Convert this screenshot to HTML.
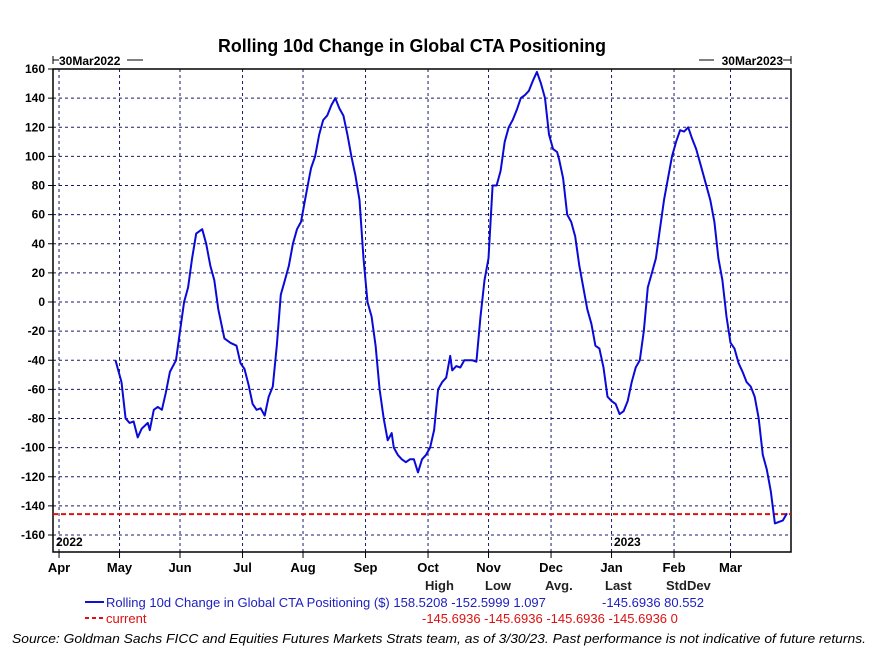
<!DOCTYPE html>
<html><head><meta charset="utf-8"><style>
body{margin:0;background:#fff}
svg{display:block;font-family:"Liberation Sans",Arial,sans-serif}
</style></head><body>
<svg id="chart" width="886" height="662" viewBox="0 0 886 662">
<text x="412" y="52" text-anchor="middle" font-size="18" font-weight="bold" textLength="388" lengthAdjust="spacingAndGlyphs">Rolling 10d Change in Global CTA Positioning</text>
<g id="grid"></g>
<g id="axes"></g>
<g id="series"></g>
<g id="legend" font-size="13" font-weight="bold">
<text x="425" y="590" fill="#222">High</text>
<text x="485" y="590" fill="#222">Low</text>
<text x="545" y="590" fill="#222">Avg.</text>
<text x="605" y="590" fill="#222">Last</text>
<text x="666" y="590" fill="#222">StdDev</text>
<line x1="85" y1="602" x2="104" y2="602" stroke="#1010d0" stroke-width="2"/>
<text x="106" y="607" fill="#2020c0" font-weight="normal">Rolling 10d Change in Global CTA Positioning ($) 158.5208 -152.5999 1.097<tspan x="602">-145.6936 80.552</tspan></text>
<line x1="85" y1="618" x2="104" y2="618" stroke="#dd1111" stroke-width="2" stroke-dasharray="4,3"/>
<text x="106" y="623" fill="#dd1111" font-weight="normal">current<tspan x="422">-145.6936 -145.6936 -145.6936 -145.6936 0</tspan></text>
</g>
<text x="12" y="643" font-size="13" font-style="italic" textLength="854" lengthAdjust="spacingAndGlyphs">Source: Goldman Sachs FICC and Equities Futures Markets Strats team, as of 3/30/23. Past performance is not indicative of future returns.</text>
</svg>
<script>
const yTicks=[160,140,120,100,80,60,40,20,0,-20,-40,-60,-80,-100,-120,-140,-160];
const monthLabels=["Apr","May","Jun","Jul","Aug","Sep","Oct","Nov","Dec","Jan","Feb","Mar"];
const monthDays=[2,32,62,93,123,154,185,215,246,276,307,335];
const seriesDays=[30,33,35,37,39,41,43,46,47,49,51,53,55,57,60,62,64,66,68,70,73,75,77,79,81,84,87,90,92,94,96,98,100,102,104,106,108,110,112,114,116,118,120,122,124,126,127,129,131,133,135,137,139,141,143,145,147,149,151,153,155,157,159,161,163,165,167,168,170,172,174,176,178,180,182,184,186,188,190,192,194,196,197,199,201,203,205,207,209,211,213,215,217,219,221,223,225,227,229,231,233,235,237,239,241,243,245,247,249,250,252,254,256,258,260,262,264,266,268,270,272,274,276,278,280,282,284,286,288,290,292,294,296,298,300,302,304,306,308,310,312,314,316,318,320,322,324,325,327,329,331,333,335,337,339,341,343,345,347,349,351,353,355,357,359,361,363];
const seriesValues=[-40,-55,-80,-83,-82,-93,-87,-83,-88,-74,-72,-74,-62,-48,-40,-20,0,10,30,47,50,40,25,15,-5,-25,-28,-30,-42,-46,-57,-70,-74,-73,-78,-65,-58,-30,5,15,25,40,50,55,70,85,92,100,115,125,128,135,140,133,128,115,100,87,70,30,0,-10,-30,-60,-80,-95,-90,-100,-105,-108,-110,-108,-108,-117,-108,-105,-100,-88,-60,-55,-52,-37,-47,-44,-45,-40,-40,-40,-41,-10,15,30,80,80,90,110,120,125,132,140,142,145,152,158,150,140,115,105,103,98,85,60,55,45,25,10,-5,-15,-30,-32,-45,-65,-68,-70,-77,-75,-68,-55,-45,-40,-20,10,20,30,50,70,85,100,110,118,117,120,112,105,95,85,75,70,55,30,15,-10,-28,-32,-42,-48,-55,-58,-65,-80,-105,-115,-130,-152,-151,-150,-145];
const currentValue=-145.6936;
const L=53,R=791,T=69,B=552;
const X=d=>55+d*(736/365);
const Y=v=>302-v*(233/160);
const NS="http://www.w3.org/2000/svg";
function mk(tag,attrs,parent){const e=document.createElementNS(NS,tag);for(const k in attrs)e.setAttribute(k,attrs[k]);parent.appendChild(e);return e;}
const grid=document.getElementById('grid'),axes=document.getElementById('axes'),ser=document.getElementById('series');
yTicks.forEach(v=>{
 const y=Y(v);
 const g=mk('line',{x1:L,x2:R,y1:y,y2:y,stroke:'#1a1a6e','stroke-dasharray':'3,3','stroke-width':1},grid);
 
 
 mk('line',{x1:L-5,x2:L,y1:y,y2:y,stroke:'#000'},axes);
 const t=mk('text',{x:L-8,y:y+4,'text-anchor':'end','font-size':12,'font-weight':'bold'},axes);
 t.textContent=v;
 
 
});
monthDays.forEach((d,i)=>{
 const x=X(d);
 const g=mk('line',{x1:x,x2:x,y1:T,y2:B,stroke:'#1a1a6e','stroke-dasharray':'3,3','stroke-width':1},grid);
 
 
 mk('line',{x1:x,x2:x,y1:B,y2:B+6,stroke:'#000'},axes);
 const t=mk('text',{x:x,y:B+20,'text-anchor':'middle','font-size':13,'font-weight':'bold'},axes);
 t.textContent=monthLabels[i];
 
 
});
const frame=mk('rect',{x:L,y:T,width:R-L,height:B-T,fill:'none',stroke:'#000','stroke-width':1.5},axes);


[[56,546,'2022'],[614,546,'2023']].forEach(a=>{
 const t=mk('text',{x:a[0],y:a[1],'font-size':12,'font-weight':'bold'},axes);
 t.textContent=a[2];
 
 
});
const s1=mk('text',{x:59,y:65,'font-size':12,'font-weight':'bold'},axes);s1.textContent='30Mar2022';


mk('line',{x1:53,x2:53,y1:56,y2:64,stroke:'#000'},axes);mk('line',{x1:53,x2:59,y1:60,y2:60,stroke:'#000'},axes);mk('line',{x1:127,x2:143,y1:60,y2:60,stroke:'#000'},axes);
const s2=mk('text',{x:783,y:65,'font-size':12,'font-weight':'bold','text-anchor':'end'},axes);s2.textContent='30Mar2023';


mk('line',{x1:791,x2:791,y1:56,y2:64,stroke:'#000'},axes);mk('line',{x1:783,x2:791,y1:60,y2:60,stroke:'#000'},axes);mk('line',{x1:699,x2:714,y1:60,y2:60,stroke:'#000'},axes);
const cur=mk('line',{x1:L,x2:R,y1:Y(currentValue),y2:Y(currentValue),stroke:'#dd1111','stroke-width':2,'stroke-dasharray':'5,3'},ser);


const pts=seriesDays.map((d,i)=>X(d).toFixed(1)+','+Y(seriesValues[i]).toFixed(1)).join(' ');
const pl=mk('polyline',{points:pts,fill:'none',stroke:'#0a0ad8','stroke-width':2,'stroke-linejoin':'round'},ser);


</script>
</body></html>
